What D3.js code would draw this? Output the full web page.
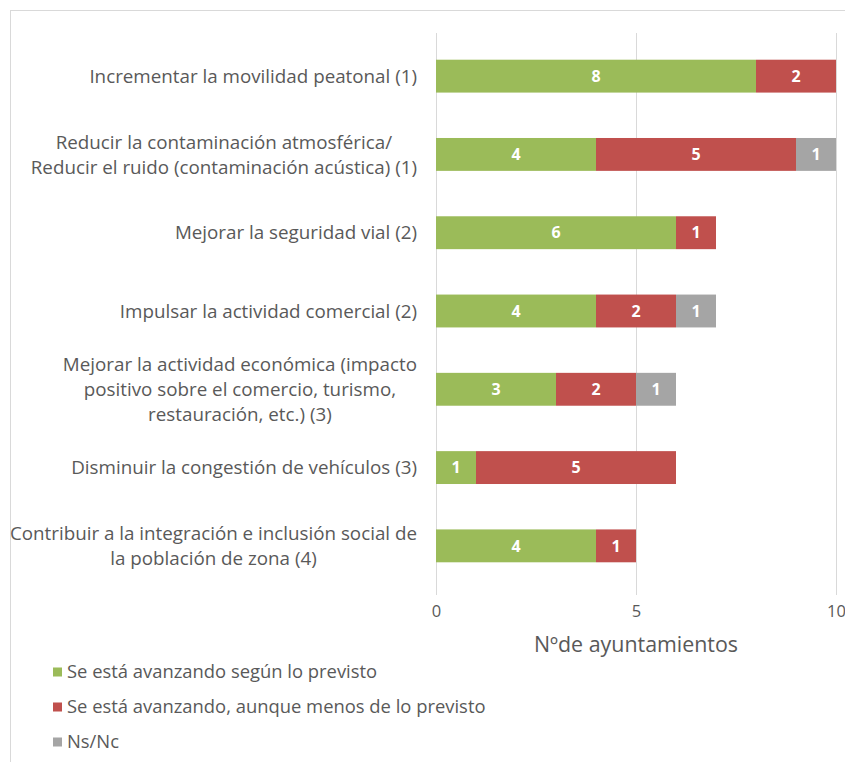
<!DOCTYPE html>
<html>
<head>
<meta charset="utf-8">
<script src="https://cdn.jsdelivr.net/npm/d3@7"></script>
<style>
  html, body { margin: 0; padding: 0; background: #fff; }
  svg { display: block; }
</style>
</head>
<body>
<div id="chart"></div>
<script>
// Objectives (multi-line labels split with "\n")
const categories = [
  "Incrementar la movilidad peatonal (1)",
  "Reducir la contaminación atmosférica/\nReducir el ruido (contaminación acústica) (1)",
  "Mejorar la seguridad vial (2)",
  "Impulsar la actividad comercial (2)",
  "Mejorar la actividad económica (impacto\npositivo sobre el comercio, turismo,\nrestauración, etc.) (3)",
  "Disminuir la congestión de vehículos (3)",
  "Contribuir a la integración e inclusión social de\nla población de zona (4)"
];
const seriesNames = [
  "Se está avanzando según lo previsto",
  "Se está avanzando, aunque menos de lo previsto",
  "Ns/Nc"
];
const onTrack = [8, 4, 6, 4, 3, 1, 4];
const behind = [2, 5, 1, 2, 2, 5, 1];
const unknown = [0, 1, 0, 1, 1, 0, 0];
const tickValues = [0, 5, 10];
const axisTitle = "Nºde ayuntamientos";

const colors = ["#9BBB59", "#C0504D", "#A5A5A5"];
const W = 845, H = 762;
const FONT = "'Open Sans', sans-serif";
const TEXT = "#595959";

const svg = d3.select("#chart").append("svg")
  .attr("width", W).attr("height", H);

// chart frame
svg.append("rect")
  .attr("x", 10.5).attr("y", 10.5)
  .attr("width", 900).attr("height", 900)
  .attr("fill", "none").attr("stroke", "#D9D9D9");

const x = d3.scaleLinear().domain([0, 10]).range([436, 836]);
const y = d3.scaleBand().domain(categories).range([37, 585])
  .paddingInner(0.58).paddingOuter(0.29);

// gridlines
const grid = svg.append("g").attr("transform", "translate(0,595)")
  .call(d3.axisBottom(x).tickValues(tickValues).tickSize(-562).tickFormat(""));
grid.select(".domain").remove();
grid.selectAll("line").attr("stroke", "#D9D9D9");

// tick labels
const axis = svg.append("g").attr("transform", "translate(0,595)")
  .call(d3.axisBottom(x).tickValues(tickValues).tickSize(0).tickPadding(10));
axis.select(".domain").remove();
axis.selectAll("text").attr("font-family", FONT).attr("font-size", 16.5)
  .attr("fill", TEXT);

svg.append("text").attr("x", x(5)).attr("y", 645).attr("dy", "0.35em")
  .attr("text-anchor", "middle").attr("font-family", FONT)
  .attr("font-size", 21.4).attr("fill", TEXT).text(axisTitle);

// stacked data
const rows = categories.map((c, i) => ({ cat: c, v: [onTrack[i], behind[i], unknown[i]] }));
const stackKeys = [0, 1, 2];
const stacked = d3.stack().keys(stackKeys).value((d, k) => d.v[k])(rows);

const layers = svg.append("g").selectAll("g").data(stacked).join("g")
  .attr("fill", (d, i) => colors[i]);

layers.selectAll("rect").data(d => d.filter(p => p[1] > p[0])).join("rect")
  .attr("x", p => x(p[0]))
  .attr("y", p => y(p.data.cat))
  .attr("width", p => x(p[1]) - x(p[0]))
  .attr("height", y.bandwidth());

layers.selectAll("text").data(d => d.filter(p => p[1] > p[0])).join("text")
  .attr("x", p => (x(p[0]) + x(p[1])) / 2)
  .attr("y", p => y(p.data.cat) + y.bandwidth() / 2)
  .attr("dy", "0.36em")
  .attr("text-anchor", "middle")
  .attr("font-family", FONT).attr("font-weight", "bold")
  .attr("font-size", 16).attr("fill", "#fff")
  .text(p => p[1] - p[0]);

// category labels: lines centred within a block right-aligned to the axis
const labelRight = 417, lineH = 25;
const labelG = svg.append("g");
categories.forEach(c => {
  const lines = c.split("\n");
  const t = labelG.append("text")
    .attr("font-family", FONT).attr("font-size", 18.8).attr("fill", TEXT)
    .attr("text-anchor", "middle");
  const cy = y(c) + y.bandwidth() / 2;
  const y0 = cy - (lines.length - 1) * lineH / 2;
  const spans = lines.map((l, j) => t.append("tspan")
    .attr("y", y0 + j * lineH).attr("dy", "0.35em").text(l));
  const maxW = d3.max(spans, s => s.node().getComputedTextLength());
  spans.forEach(s => s.attr("x", labelRight - maxW / 2));
});

// legend
const legend = svg.append("g");
seriesNames.forEach((n, i) => {
  const ly = 672 + i * 35;
  legend.append("rect").attr("x", 53).attr("y", ly - 4.5).attr("width", 9).attr("height", 9)
    .attr("fill", colors[i]);
  legend.append("text").attr("x", 67).attr("y", ly).attr("dy", "0.35em")
    .attr("font-family", FONT).attr("font-size", 18.4).attr("fill", TEXT).text(n);
});
</script>
</body>
</html>
